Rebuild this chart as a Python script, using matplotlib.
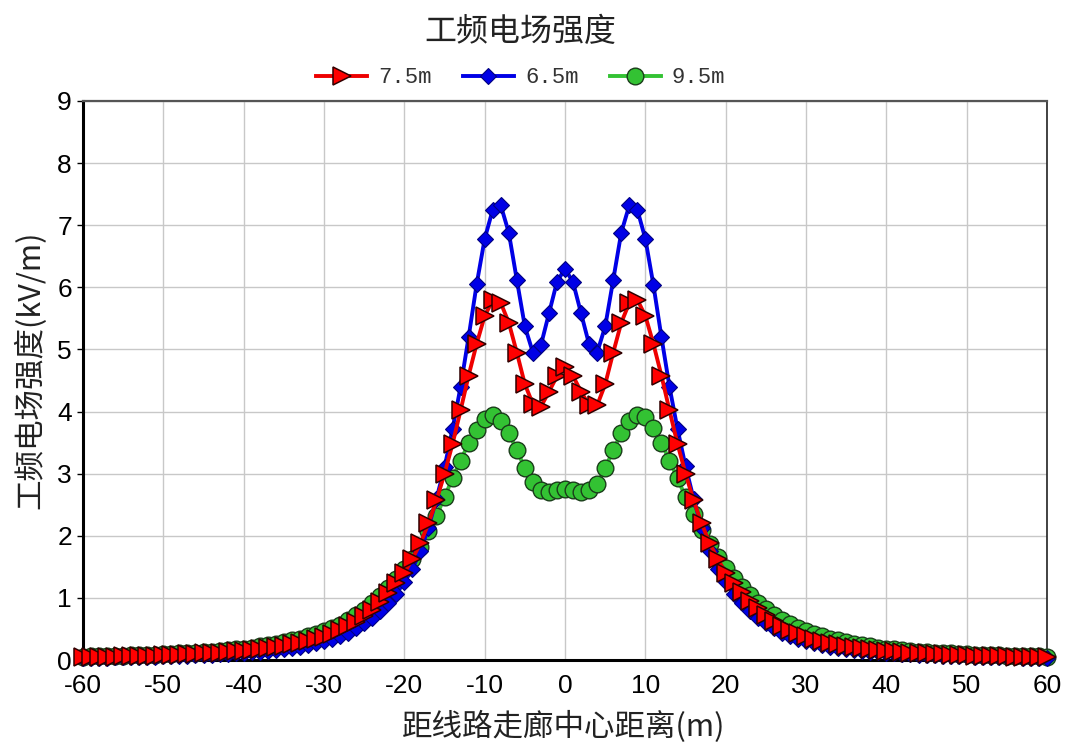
import matplotlib
matplotlib.use("Agg")
import matplotlib.pyplot as plt

plt.rcParams['font.family'] = ['Noto Sans CJK SC', 'DejaVu Sans']
plt.rcParams['axes.unicode_minus'] = False

x_m = list(range(-60, 61))

e_75 = [0.046, 0.048, 0.050, 0.052, 0.055, 0.058, 0.061, 0.064, 0.068, 0.072,
        0.076, 0.081, 0.086, 0.092, 0.098, 0.105, 0.11, 0.12, 0.13, 0.14,
        0.15, 0.16, 0.175, 0.19, 0.21, 0.23, 0.25, 0.28, 0.31, 0.34,
        0.37, 0.42, 0.48, 0.54, 0.62, 0.71, 0.81, 0.94, 1.08, 1.24,
        1.40, 1.63, 1.88, 2.20, 2.57, 3.00, 3.48, 4.02, 4.58, 5.09,
        5.54, 5.79, 5.75, 5.43, 4.95, 4.44, 4.12, 4.08, 4.32, 4.57,
        4.71,
        4.57, 4.32, 4.10, 4.10, 4.44, 4.95, 5.43, 5.75, 5.80, 5.54,
        5.09, 4.58, 4.02, 3.48, 3.00, 2.57, 2.20, 1.88, 1.63, 1.40,
        1.24, 1.09, 0.95, 0.83, 0.72, 0.63, 0.55, 0.49, 0.43, 0.38,
        0.34, 0.31, 0.28, 0.25, 0.23, 0.21, 0.19, 0.175, 0.16, 0.15,
        0.14, 0.13, 0.12, 0.11, 0.105, 0.098, 0.092, 0.086, 0.081, 0.076,
        0.072, 0.068, 0.064, 0.061, 0.058, 0.055, 0.052, 0.050, 0.048, 0.046]

e_65 = [0.034, 0.036, 0.038, 0.040, 0.042, 0.044, 0.046, 0.049, 0.052, 0.055,
        0.058, 0.062, 0.066, 0.070, 0.075, 0.080, 0.086, 0.092, 0.099, 0.107,
        0.115, 0.125, 0.135, 0.145, 0.16, 0.175, 0.195, 0.215, 0.24, 0.27,
        0.30, 0.34, 0.39, 0.44, 0.51, 0.59, 0.68, 0.79, 0.92, 1.07,
        1.25, 1.47, 1.75, 2.13, 2.60, 3.10, 3.72, 4.40, 5.20, 6.05,
        6.78, 7.25, 7.32, 6.88, 6.12, 5.37, 4.95, 5.07, 5.58, 6.09,
        6.30,
        6.08, 5.58, 5.08, 4.95, 5.37, 6.12, 6.88, 7.32, 7.25, 6.78,
        6.04, 5.20, 4.40, 3.72, 3.12, 2.60, 2.13, 1.75, 1.47, 1.25,
        1.07, 0.92, 0.79, 0.68, 0.59, 0.51, 0.44, 0.39, 0.34, 0.30,
        0.27, 0.24, 0.215, 0.195, 0.175, 0.16, 0.145, 0.135, 0.125, 0.115,
        0.107, 0.099, 0.092, 0.086, 0.080, 0.075, 0.070, 0.066, 0.062, 0.058,
        0.055, 0.052, 0.049, 0.046, 0.044, 0.042, 0.040, 0.038, 0.036, 0.034]

e_95 = [0.056, 0.059, 0.062, 0.065, 0.068, 0.071, 0.075, 0.079, 0.083, 0.088,
        0.093, 0.099, 0.105, 0.112, 0.120, 0.128, 0.137, 0.147, 0.158, 0.170,
        0.185, 0.20, 0.22, 0.24, 0.26, 0.285, 0.315, 0.345, 0.38, 0.42,
        0.46, 0.51, 0.57, 0.64, 0.72, 0.81, 0.91, 1.03, 1.16, 1.31,
        1.46, 1.62, 1.82, 2.07, 2.32, 2.62, 2.93, 3.21, 3.49, 3.71,
        3.88, 3.95, 3.84, 3.65, 3.38, 3.09, 2.87, 2.74, 2.71, 2.74,
        2.76,
        2.74, 2.71, 2.74, 2.84, 3.09, 3.38, 3.65, 3.84, 3.95, 3.91,
        3.73, 3.50, 3.21, 2.93, 2.62, 2.35, 2.10, 1.86, 1.66, 1.48,
        1.32, 1.17, 1.04, 0.92, 0.82, 0.73, 0.65, 0.58, 0.52, 0.47,
        0.42, 0.38, 0.345, 0.315, 0.285, 0.26, 0.24, 0.22, 0.20, 0.185,
        0.17, 0.158, 0.147, 0.137, 0.128, 0.120, 0.112, 0.105, 0.099, 0.093,
        0.088, 0.083, 0.079, 0.075, 0.071, 0.068, 0.065, 0.062, 0.059, 0.056]

labels = ['7.5m', '6.5m', '9.5m']
x_ticks = list(range(-60, 61, 10))
y_ticks = list(range(0, 10))

fig = plt.figure(figsize=(10.67, 7.49), dpi=100)
ax = fig.add_axes([0.0778, 0.1188, 0.9035, 0.7464])

l_green, = ax.plot(x_m, e_95, color='#33c233', lw=2.8, marker='o', markersize=12,
                   markerfacecolor='#33c233', markeredgecolor='#1a3d1a', markeredgewidth=1.0,
                   clip_on=False, zorder=3, label=labels[2])
l_blue, = ax.plot(x_m, e_65, color='#0000e6', lw=2.8, marker='D', markersize=8.5,
                  markerfacecolor='#0000e6', markeredgecolor='#000080', markeredgewidth=0.8,
                  clip_on=False, zorder=4, label=labels[1])
l_red, = ax.plot(x_m, e_75, color='#ee0000', lw=2.8, marker='>', markersize=12.5,
                 markerfacecolor='#ff0000', markeredgecolor='#300000', markeredgewidth=1.1,
                 clip_on=False, zorder=5, label=labels[0])

ax.set_xlim(-60, 60)
ax.set_ylim(0, 9)
ax.set_xticks(x_ticks)
ax.set_yticks(y_ticks)
ax.grid(True, color='#c8c8c8', lw=1.0)
ax.set_axisbelow(True)

for lab in ax.get_xticklabels() + ax.get_yticklabels():
    lab.set_fontfamily(['Liberation Sans', 'DejaVu Sans'])
    lab.set_fontsize(19)
ax.tick_params(axis='x', length=0, pad=10)
ax.tick_params(axis='y', length=4, width=1, pad=4)

ax.spines['left'].set_linewidth(2.2)
ax.spines['bottom'].set_linewidth(2.2)
ax.spines['left'].set_color('black')
ax.spines['bottom'].set_color('black')
ax.spines['top'].set_linewidth(1.6)
ax.spines['top'].set_color('#555555')
ax.spines['right'].set_linewidth(1.2)
ax.spines['right'].set_color('#222222')

fig.text(0.488, 0.957, '工频电场强度', ha='center', va='center', fontsize=23,
         color='#222222')
fig.text(0.028, 0.506, '工频电场强度(kV/m)', ha='center', va='center', rotation=90,
         fontsize=22, color='#222222')
fig.text(0.528, 0.030, '距线路走廊中心距离(m)', ha='center', va='center', fontsize=22,
         color='#222222')

leg = fig.legend(handles=[l_red, l_blue, l_green], labels=labels, loc='center',
                 bbox_to_anchor=(0.488, 0.896), ncol=3, frameon=False,
                 prop={'family': ['Liberation Mono', 'DejaVu Sans Mono'], 'size': 16},
                 handlelength=2.3, handletextpad=0.5, columnspacing=1.4)
for t in leg.get_texts():
    t.set_color('#333333')

fig.savefig('out.png', dpi=100)
